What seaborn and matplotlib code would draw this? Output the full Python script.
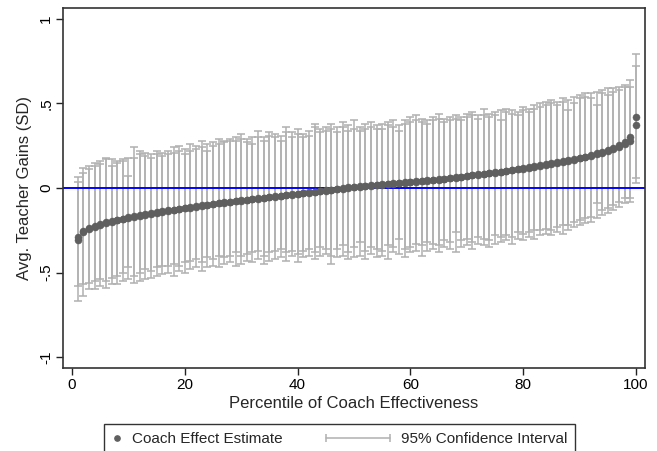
import numpy as np
import pandas as pd
import matplotlib
matplotlib.use("Agg")
import matplotlib.pyplot as plt
from matplotlib.lines import Line2D
from matplotlib.legend_handler import HandlerLine2D
import seaborn as sns

# ---------------- data ----------------
percentile = list(range(1, 101))

est_a = [-0.310, -0.260, -0.245, -0.230, -0.218, -0.208, -0.200, -0.192, -0.185, -0.178,
         -0.171, -0.165, -0.159, -0.153, -0.147, -0.141, -0.136, -0.131, -0.126, -0.121,
         -0.116, -0.111, -0.106, -0.101, -0.096, -0.091, -0.087, -0.083, -0.079, -0.075,
         -0.071, -0.067, -0.063, -0.059, -0.055, -0.051, -0.047, -0.043, -0.039, -0.035,
         -0.031, -0.027, -0.023, -0.019, -0.015, -0.011, -0.007, -0.003, 0.001, 0.005,
         0.008, 0.011, 0.014, 0.017, 0.020, 0.023, 0.026, 0.029, 0.032, 0.035,
         0.038, 0.041, 0.044, 0.047, 0.050, 0.054, 0.058, 0.062, 0.066, 0.070,
         0.074, 0.078, 0.082, 0.086, 0.090, 0.095, 0.100, 0.105, 0.110, 0.115,
         0.120, 0.125, 0.131, 0.137, 0.143, 0.149, 0.155, 0.161, 0.168, 0.175,
         0.182, 0.190, 0.200, 0.210, 0.220, 0.232, 0.245, 0.262, 0.280, 0.370]

est_b = [-0.290, -0.252, -0.238, -0.224, -0.213, -0.204, -0.196, -0.188, -0.181, -0.174,
         -0.168, -0.162, -0.156, -0.150, -0.144, -0.138, -0.133, -0.128, -0.123, -0.118,
         -0.113, -0.108, -0.103, -0.098, -0.093, -0.089, -0.085, -0.081, -0.077, -0.073,
         -0.069, -0.065, -0.061, -0.057, -0.053, -0.049, -0.045, -0.041, -0.037, -0.033,
         -0.029, -0.025, -0.021, -0.017, -0.013, -0.009, -0.005, -0.001, 0.003, 0.006,
         0.009, 0.012, 0.015, 0.018, 0.021, 0.024, 0.027, 0.030, 0.033, 0.036,
         0.039, 0.042, 0.045, 0.048, 0.052, 0.056, 0.060, 0.064, 0.068, 0.072,
         0.076, 0.080, 0.084, 0.088, 0.092, 0.097, 0.102, 0.107, 0.112, 0.117,
         0.122, 0.128, 0.134, 0.140, 0.146, 0.152, 0.158, 0.164, 0.171, 0.178,
         0.186, 0.195, 0.205, 0.215, 0.226, 0.238, 0.253, 0.270, 0.300, 0.420]

upper_a = [0.065, 0.12, 0.13, 0.15, 0.16, 0.18, 0.17, 0.16, 0.17, 0.18,
           0.24, 0.22, 0.21, 0.20, 0.22, 0.21, 0.22, 0.24, 0.25, 0.23,
           0.26, 0.25, 0.28, 0.26, 0.27, 0.29, 0.28, 0.29, 0.30, 0.32,
           0.29, 0.30, 0.34, 0.30, 0.33, 0.32, 0.31, 0.36, 0.33, 0.35,
           0.32, 0.34, 0.38, 0.35, 0.36, 0.38, 0.36, 0.39, 0.37, 0.40,
           0.36, 0.38, 0.39, 0.37, 0.38, 0.39, 0.40, 0.37, 0.40, 0.42,
           0.43, 0.41, 0.40, 0.42, 0.44, 0.41, 0.42, 0.43, 0.42, 0.44,
           0.45, 0.43, 0.47, 0.44, 0.45, 0.46, 0.47, 0.46, 0.45, 0.48,
           0.47, 0.49, 0.50, 0.51, 0.52, 0.51, 0.53, 0.52, 0.54, 0.55,
           0.56, 0.56, 0.57, 0.58, 0.59, 0.59, 0.60, 0.61, 0.64, 0.72]

upper_b = [0.035, 0.09, 0.11, 0.13, 0.14, 0.17, 0.13, 0.15, 0.16, 0.07,
           0.18, 0.20, 0.19, 0.18, 0.20, 0.19, 0.20, 0.21, 0.22, 0.20,
           0.22, 0.23, 0.24, 0.22, 0.25, 0.26, 0.27, 0.28, 0.28, 0.29,
           0.27, 0.26, 0.30, 0.28, 0.31, 0.30, 0.28, 0.33, 0.30, 0.32,
           0.30, 0.31, 0.36, 0.33, 0.34, 0.35, 0.33, 0.36, 0.34, 0.35,
           0.34, 0.35, 0.36, 0.35, 0.35, 0.37, 0.36, 0.34, 0.38, 0.39,
           0.40, 0.39, 0.38, 0.40, 0.41, 0.39, 0.40, 0.41, 0.40, 0.42,
           0.43, 0.41, 0.43, 0.42, 0.43, 0.40, 0.45, 0.44, 0.43, 0.46,
           0.45, 0.47, 0.48, 0.49, 0.50, 0.49, 0.51, 0.46, 0.50, 0.53,
           0.54, 0.53, 0.49, 0.56, 0.55, 0.57, 0.58, 0.60, 0.60, 0.79]

lower_a = [-0.67, -0.64, -0.60, -0.60, -0.58, -0.59, -0.57, -0.57, -0.55, -0.54,
           -0.56, -0.55, -0.54, -0.53, -0.52, -0.51, -0.50, -0.52, -0.49, -0.50,
           -0.48, -0.47, -0.49, -0.47, -0.46, -0.47, -0.45, -0.44, -0.46, -0.45,
           -0.43, -0.44, -0.42, -0.45, -0.43, -0.42, -0.41, -0.43, -0.40, -0.44,
           -0.41, -0.40, -0.42, -0.40, -0.39, -0.45, -0.41, -0.40, -0.42, -0.41,
           -0.40, -0.42, -0.39, -0.41, -0.40, -0.42, -0.38, -0.39, -0.41, -0.38,
           -0.37, -0.40, -0.37, -0.36, -0.38, -0.35, -0.36, -0.38, -0.35, -0.34,
           -0.36, -0.33, -0.34, -0.35, -0.33, -0.32, -0.31, -0.33, -0.30, -0.31,
           -0.29, -0.30, -0.28, -0.27, -0.28, -0.26, -0.27, -0.25, -0.23, -0.22,
           -0.21, -0.20, -0.18, -0.16, -0.15, -0.13, -0.11, -0.09, -0.08, 0.03]

lower_b = [-0.58, -0.57, -0.56, -0.55, -0.54, -0.55, -0.53, -0.52, -0.50, -0.47,
           -0.52, -0.50, -0.48, -0.49, -0.47, -0.46, -0.46, -0.45, -0.46, -0.44,
           -0.43, -0.42, -0.44, -0.41, -0.42, -0.40, -0.41, -0.40, -0.38, -0.40,
           -0.39, -0.38, -0.37, -0.40, -0.38, -0.37, -0.36, -0.38, -0.37, -0.39,
           -0.37, -0.36, -0.38, -0.35, -0.36, -0.40, -0.36, -0.34, -0.38, -0.35,
           -0.32, -0.37, -0.35, -0.36, -0.37, -0.34, -0.35, -0.30, -0.36, -0.35,
           -0.33, -0.34, -0.32, -0.33, -0.34, -0.31, -0.32, -0.26, -0.31, -0.30,
           -0.32, -0.29, -0.30, -0.31, -0.28, -0.29, -0.28, -0.29, -0.26, -0.27,
           -0.26, -0.25, -0.25, -0.24, -0.25, -0.23, -0.22, -0.22, -0.20, -0.19,
           -0.18, -0.17, -0.09, -0.13, -0.12, -0.10, -0.08, -0.06, -0.06, 0.06]

legend_labels = ["Coach Effect Estimate", "95% Confidence Interval"]
x_label = "Percentile of Coach Effectiveness"
y_label = "Avg. Teacher Gains (SD)"
x_ticks = [0, 20, 40, 60, 80, 100]
y_ticks = [-1, -0.5, 0, 0.5, 1]
y_tick_labels = ["-1", "-.5", "0", ".5", "1"]

# ---------------- tidy frame ----------------
df = pd.DataFrame({
    "percentile": percentile * 2,
    "estimate": est_a + est_b,
    "upper": upper_a + upper_b,
    "lower": lower_a + lower_b,
})
df["mid"] = (df["upper"] + df["lower"]) / 2

# ---------------- style ----------------
sns.set_theme(style="ticks")
plt.rcParams["font.family"] = ["Liberation Sans", "DejaVu Sans"]

CI_COLOR = "#b0b0b0"
PT_COLOR = "#5f5f5f"

fig = plt.figure(figsize=(6.57, 4.51), dpi=100)
ax = fig.add_axes([63 / 657, 1 - 368 / 451, (645 - 63) / 657, (368 - 8) / 451])

# confidence intervals (rcap style)
ax.errorbar(df["percentile"], df["mid"],
            yerr=[df["mid"] - df["lower"], df["upper"] - df["mid"]],
            fmt="none", ecolor=CI_COLOR, elinewidth=1.1, capsize=2.6,
            capthick=1.1, zorder=1)

# zero reference line
ax.axhline(0, color="#0000ff", lw=1.4, zorder=2)

# point estimates
sns.scatterplot(data=df, x="percentile", y="estimate", ax=ax, color=PT_COLOR,
                s=26, edgecolor=PT_COLOR, linewidth=0.3, zorder=3, legend=False)

ax.set_xlim(-1.6, 101.6)
ax.set_ylim(-1.065, 1.065)
ax.set_xticks(x_ticks)
ax.set_xticklabels([str(t) for t in x_ticks])
ax.set_yticks(y_ticks)
ax.set_yticklabels(y_tick_labels, rotation=90, va="center")
ax.set_xlabel(x_label, fontsize=12, labelpad=3)
ax.set_ylabel(y_label, fontsize=12, labelpad=5)
ax.tick_params(axis="both", direction="out", length=5, width=1, colors="#222222",
               labelsize=11, labelcolor="black", pad=2)
for sp in ax.spines.values():
    sp.set_visible(True)
    sp.set_color("#333333")
    sp.set_linewidth(1.2)


class CIHandler(HandlerLine2D):
    """Horizontal capped line that extends to the left of the handle box."""

    def __init__(self, extra, **kw):
        super().__init__(numpoints=2, **kw)
        self.extra = extra

    def get_xdata(self, legend, xdescent, ydescent, width, height, fontsize):
        x = np.array([-xdescent - self.extra * fontsize, -xdescent + width])
        return x, x


# legend
h_pt = Line2D([], [], linestyle="none", marker="o", markersize=3.8,
              color=PT_COLOR, markeredgecolor=PT_COLOR)
h_ci = Line2D([], [], color=CI_COLOR, lw=1.1, marker="|", markersize=5.5,
              markeredgewidth=1.1)
leg = fig.legend([h_pt, h_ci], legend_labels, ncol=2,
                 loc="upper left", bbox_to_anchor=(104 / 657, 1 - 424 / 451),
                 frameon=True, fancybox=False, edgecolor="black",
                 fontsize=11, handlelength=0.55, handletextpad=0.7,
                 columnspacing=6.5, borderpad=0.55, borderaxespad=0,
                 handler_map={h_ci: CIHandler(3.6)})
leg.get_frame().set_linewidth(1.0)

fig.savefig("out.png", dpi=100)
